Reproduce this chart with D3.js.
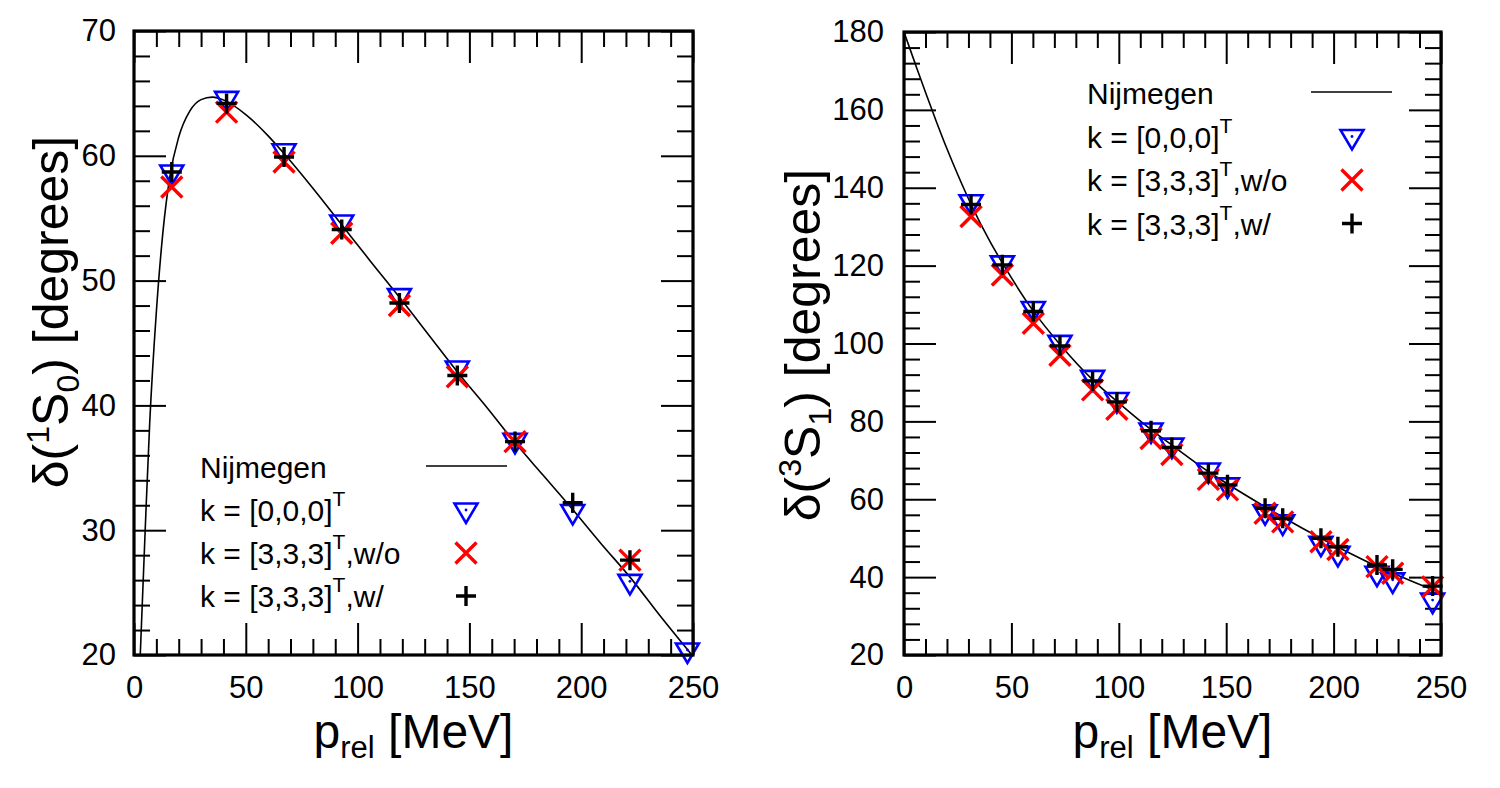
<!DOCTYPE html>
<html>
<head>
<meta charset="utf-8">
<script src="https://cdn.jsdelivr.net/npm/d3@7"></script>
<style>
  body { margin: 0; background: #fff; }
  svg { display: block; }
  text { font-family: "Liberation Sans", Arial, Helvetica, sans-serif; white-space: pre; }
</style>
</head>
<body>
<svg id="chart" width="1500" height="788"></svg>
<script>

/* DATA */

// 1S0 channel (left panel)
const s1Momentum = [16.9, 41.4, 67.1, 92.9, 118.7, 144.6, 170.4, 196.2, 221.8, 247.5];
const s1K000 = [58.7, 64.6, 60.4, 54.7, 48.8, 43.0, 37.2, 31.5, 25.9, 20.4];
const s1K333wo = [57.5, 63.5, 59.5, 53.8, 48.0, 42.3, 37.1, null, 27.6, null];
const s1K333w = [58.7, 64.2, 59.9, 54.1, 48.2, 42.4, 37.1, 32.2, 27.6, null];
const s1NijP = [2.8, 5, 7, 10, 13, 16, 20, 25, 30, 35, 41, 50, 60, 67, 80, 93, 106, 119, 132, 145, 158, 170, 183, 196, 209, 222, 235, 249.5];
const s1NijDelta = [20, 30, 38.5, 47.5, 54, 58.3, 61.5, 63.6, 64.5, 64.7, 64.4, 63.3, 61.6, 60.2, 57.4, 54.45, 51.5, 48.6, 45.6, 42.6, 39.8, 37.1, 34.4, 31.7, 28.9, 26.2, 23.2, 20];

// 3S1 channel (right panel)
const s3Momentum = [31.2, 45.8, 60.2, 72.6, 87.8, 99.1, 115.0, 124.7, 141.7, 150.6, 168.1, 176.3, 194.1, 202.0, 220.2, 227.5, 246.1];
const s3K000 = [136.4, 120.7, 109.0, 100.3, 91.3, 85.6, 77.8, 73.9, 67.5, 63.7, 56.8, 54.2, 48.7, 46.1, 41.0, 39.3, 34.1];
const s3K333wo = [132.6, 117.6, 105.2, 97.0, 88.1, 83.1, 75.6, 71.5, 65.1, 62.4, 56.4, 54.2, 49.1, 47.1, 42.7, 41.0, 37.5];
const s3K333w = [135.7, 120.2, 108.2, 99.4, 90.4, 85.0, 77.6, 73.3, 66.7, 63.7, 57.7, 55.1, 50.0, 47.8, 43.1, 42.0, 37.7];
const s3NijP = [0, 5, 10, 15, 20, 25, 31, 40, 46, 60, 73, 88, 99, 115, 125, 142, 151, 168, 176, 194, 202, 220, 228, 246, 250];
const s3NijDelta = [180, 172.2, 164.5, 157.1, 150.0, 143.4, 136.0, 126.2, 120.5, 108.5, 99.5, 90.6, 85.2, 77.9, 73.8, 67.0, 63.8, 58.1, 55.5, 50.0, 47.7, 42.8, 40.9, 36.8, 36.0];

// axis ranges and tick steps
const xDomain = [0, 250];
const xMajorStep = 50, xMinorStep = 10;
const s1YDomain = [20, 70], s1YMajorStep = 10, s1YMinorStep = 2;
const s3YDomain = [20, 180], s3YMajorStep = 20, s3YMinorStep = 4;

// legend labels
const legendLabels = [
  { main: "Nijmegen" },
  { main: "k = [0,0,0]", sup: "T", rest: "" },
  { main: "k = [3,3,3]", sup: "T", rest: ",w/o" },
  { main: "k = [3,3,3]", sup: "T", rest: ",w/" }
];


/* SETUP */

const svg = d3.select("#chart");
svg.append("rect").attr("width", 1500).attr("height", 788).attr("fill", "#fff");

const majorLen = 32, minorLen = 16;

// marker shapes
const triPath = "M-11.5,-6.5L11.5,-6.5L0,13Z";
const crossPath = "M-10.5,-10.5L10.5,10.5M-10.5,10.5L10.5,-10.5";
const plusPath = "M-10,0H10M0,-10V10";

function drawTriangle(g, px, py) {
  g.append("path").attr("d", triPath).attr("transform", `translate(${px},${py})`)
    .attr("fill", "none").attr("stroke", "#0000ff").attr("stroke-width", 2.6).attr("stroke-linejoin", "miter");
  g.append("circle").attr("cx", px).attr("cy", py).attr("r", 1.4).attr("fill", "#0000ff");
}

function drawCross(g, px, py) {
  g.append("path").attr("d", crossPath).attr("transform", `translate(${px},${py})`)
    .attr("fill", "none").attr("stroke", "#ff0000").attr("stroke-width", 3.4);
}

function drawPlus(g, px, py) {
  g.append("path").attr("d", plusPath).attr("transform", `translate(${px},${py})`)
    .attr("fill", "none").attr("stroke", "#000").attr("stroke-width", 3.4);
}

function styleAxis(sel) {
  sel.select(".domain").remove();
  sel.selectAll(".tick line").attr("stroke", "#000").attr("stroke-width", 2);
  sel.selectAll("text").attr("font-size", 31).attr("fill", "#000")
    .attr("font-family", '"Liberation Sans", Arial, Helvetica, sans-serif');
}


/* PANEL */

function drawPanel(p) {

  let x = d3.scaleLinear().domain(xDomain).range([p.left, p.right]);
  let y = d3.scaleLinear().domain(p.yDomain).range([p.bottom, p.top]);

  let g = svg.append("g");

  let xMajor = d3.range(xDomain[0], xDomain[1] + 1, xMajorStep);
  let xMinor = d3.range(xDomain[0], xDomain[1] + 1, xMinorStep).filter(v => v % xMajorStep !== 0);
  let yMajor = d3.range(p.yDomain[0], p.yDomain[1] + 1, p.yMajorStep);
  let yMinor = d3.range(p.yDomain[0], p.yDomain[1] + 1, p.yMinorStep).filter(v => (v - p.yDomain[0]) % p.yMajorStep !== 0);

  // bottom + top
  g.append("g").attr("transform", `translate(0,${p.bottom})`)
    .call(d3.axisBottom(x).tickValues(xMajor).tickSize(-majorLen).tickSizeOuter(0).tickPadding(21).tickFormat(d3.format("d")))
    .call(styleAxis);
  g.append("g").attr("transform", `translate(0,${p.bottom})`)
    .call(d3.axisBottom(x).tickValues(xMinor).tickSize(-minorLen).tickSizeOuter(0).tickFormat(""))
    .call(styleAxis);
  g.append("g").attr("transform", `translate(0,${p.top})`)
    .call(d3.axisTop(x).tickValues(xMajor).tickSize(-majorLen).tickSizeOuter(0).tickFormat(""))
    .call(styleAxis);
  g.append("g").attr("transform", `translate(0,${p.top})`)
    .call(d3.axisTop(x).tickValues(xMinor).tickSize(-minorLen).tickSizeOuter(0).tickFormat(""))
    .call(styleAxis);

  // left + right
  g.append("g").attr("transform", `translate(${p.left},0)`)
    .call(d3.axisLeft(y).tickValues(yMajor).tickSize(-majorLen).tickSizeOuter(0).tickPadding(p.yPad).tickFormat(d3.format("d")))
    .call(styleAxis);
  g.append("g").attr("transform", `translate(${p.left},0)`)
    .call(d3.axisLeft(y).tickValues(yMinor).tickSize(-minorLen).tickSizeOuter(0).tickFormat(""))
    .call(styleAxis);
  g.append("g").attr("transform", `translate(${p.right},0)`)
    .call(d3.axisRight(y).tickValues(yMajor).tickSize(-majorLen).tickSizeOuter(0).tickFormat(""))
    .call(styleAxis);
  g.append("g").attr("transform", `translate(${p.right},0)`)
    .call(d3.axisRight(y).tickValues(yMinor).tickSize(-minorLen).tickSizeOuter(0).tickFormat(""))
    .call(styleAxis);

  // clip for the curve
  svg.append("clipPath").attr("id", p.id + "-clip")
    .append("rect").attr("x", p.left).attr("y", p.top)
    .attr("width", p.right - p.left).attr("height", p.bottom - p.top);

  let curvePts = p.nijP.map((v, i) => [v, p.nijDelta[i]]);
  g.append("path")
    .datum(curvePts)
    .attr("clip-path", `url(#${p.id}-clip)`)
    .attr("fill", "none")
    .attr("stroke", "#000")
    .attr("stroke-width", 1.6)
    .attr("d", d3.line().x(d => x(d[0])).y(d => y(d[1])).curve(d3.curveMonotoneX));

  // data points: triangles, then crosses, then pluses
  let marks = g.append("g");
  p.momentum.forEach((m, i) => { if (p.k000[i] != null) drawTriangle(marks, x(m), y(p.k000[i])); });
  p.momentum.forEach((m, i) => { if (p.k333wo[i] != null) drawCross(marks, x(m), y(p.k333wo[i])); });
  p.momentum.forEach((m, i) => { if (p.k333w[i] != null) drawPlus(marks, x(m), y(p.k333w[i])); });

  // frame
  g.append("rect")
    .attr("x", p.left).attr("y", p.top)
    .attr("width", p.right - p.left).attr("height", p.bottom - p.top)
    .attr("fill", "none").attr("stroke", "#000").attr("stroke-width", 3.2);

  // x title
  let xt = g.append("text")
    .attr("x", (p.left + p.right) / 2).attr("y", 748)
    .attr("text-anchor", "middle").attr("font-size", 48);
  xt.append("tspan").text("p");
  xt.append("tspan").attr("font-size", 31).attr("dy", 10).text("rel");
  xt.append("tspan").attr("font-size", 48).attr("dy", -10).text(" [MeV]");

  // y title
  let yt = g.append("text")
    .attr("transform", `translate(${p.yTitleX},${p.yTitleY}) rotate(-90)`)
    .attr("text-anchor", "middle").attr("font-size", 50);
  yt.append("tspan").text("δ(");
  yt.append("tspan").attr("font-size", 32).attr("dy", -19).text(p.sup);
  yt.append("tspan").attr("font-size", 50).attr("dy", 19).text("S");
  yt.append("tspan").attr("font-size", 32).attr("dy", 11).text(p.sub);
  yt.append("tspan").attr("font-size", 50).attr("dy", -11).text(") [degrees]");

  // legend
  let lg = g.append("g");
  legendLabels.forEach((d, i) => {
    let by = p.legY + i * p.legStep;
    let t = lg.append("text").attr("x", p.legX).attr("y", by).attr("font-size", 30);
    t.append("tspan").text(d.main);
    if (d.sup) {
      t.append("tspan").attr("font-size", 21).attr("dy", -15).text(d.sup);
      t.append("tspan").attr("font-size", 30).attr("dy", 15).text(d.rest);
    }
  });
  lg.append("line")
    .attr("x1", p.legLine[0]).attr("x2", p.legLine[1])
    .attr("y1", p.legY - 12).attr("y2", p.legY - 12)
    .attr("stroke", "#000").attr("stroke-width", 1.6);
  drawTriangle(lg, p.legSym, p.legY + p.legStep - 11);
  drawCross(lg, p.legSym, p.legY + 2 * p.legStep - 11);
  drawPlus(lg, p.legSym, p.legY + 3 * p.legStep - 11);
}


/* DRAW */

drawPanel({
  id: "s1",
  left: 134, right: 693, top: 31, bottom: 655,
  yDomain: s1YDomain, yMajorStep: s1YMajorStep, yMinorStep: s1YMinorStep, yPad: 18,
  momentum: s1Momentum, k000: s1K000, k333wo: s1K333wo, k333w: s1K333w,
  nijP: s1NijP, nijDelta: s1NijDelta,
  sup: "1", sub: "0",
  yTitleX: 68, yTitleY: 312,
  legX: 200, legY: 478, legStep: 43, legSym: 466, legLine: [426, 507]
});

drawPanel({
  id: "s3",
  left: 904, right: 1441, top: 32, bottom: 655,
  yDomain: s3YDomain, yMajorStep: s3YMajorStep, yMinorStep: s3YMinorStep, yPad: 20,
  momentum: s3Momentum, k000: s3K000, k333wo: s3K333wo, k333w: s3K333w,
  nijP: s3NijP, nijDelta: s3NijDelta,
  sup: "3", sub: "1",
  yTitleX: 820, yTitleY: 345,
  legX: 1087, legY: 104, legStep: 43.5, legSym: 1352, legLine: [1311, 1392]
});

</script>
</body>
</html>
